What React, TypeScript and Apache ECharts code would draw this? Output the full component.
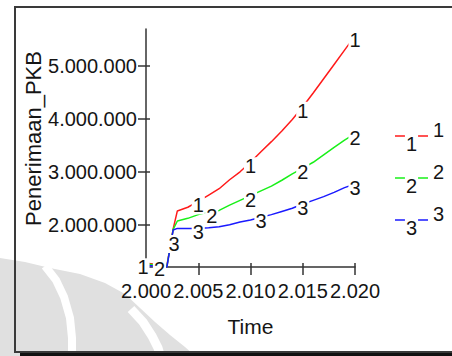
import React, { useEffect, useRef } from "react";
import * as echarts from "echarts";

// ---- data ----
const seriesNames = ["1", "2", "3"];
const seriesColors = ["#ff1a1a", "#19f019", "#1a1aff"];
const times = [2000, 2001, 2002, 2002.6, 2003, 2004, 2005, 2006, 2007, 2008, 2009, 2010, 2011, 2012, 2013, 2014, 2015, 2016, 2017, 2018, 2019, 2020];
const run1 = [1270000, 1250000, 1220000, 1920000, 2260000, 2330000, 2440000, 2560000, 2680000, 2850000, 3000000, 3180000, 3380000, 3570000, 3770000, 3990000, 4230000, 4490000, 4760000, 5030000, 5300000, 5570000];
const run2 = [1256000, 1240000, 1210000, 1910000, 2070000, 2120000, 2190000, 2240000, 2270000, 2370000, 2460000, 2550000, 2640000, 2730000, 2840000, 2960000, 3070000, 3180000, 3320000, 3460000, 3600000, 3720000];
const run3 = [1230000, 1220000, 1200000, 1900000, 1930000, 1930000, 1930000, 1940000, 1960000, 2000000, 2050000, 2090000, 2140000, 2190000, 2250000, 2310000, 2390000, 2460000, 2530000, 2610000, 2700000, 2770000];
// indices of points carrying the run-number marker
const markers1 = [0, 6, 11, 16, 21];
const markers2 = [1, 7, 11, 16, 21];
const markers3 = [3, 6, 12, 16, 21];
const yTicks = [2000000, 3000000, 4000000, 5000000];
const yMin = 1200000;
const yMax = 5700000;
const xMin = 2000;
const xMax = 2020;
const xStep = 5;
const yName = "Penerimaan_PKB";
const xName = "Time";

const FONT = "'Liberation Sans', Arial, sans-serif";
const TXT = "#151515";
const AX = "#333";

const dots = (v: number) => String(Math.round(v)).replace(/\B(?=(\d{3})+(?!\d))/g, ".");

// label style offsets (presentation only)
const specialOffsets: Record<string, number[]> = {
  "0-0": [-3, 4],
  "1-1": [3, 4],
  "1-7": [3, 4],
  "2-3": [1, 14],
};

export default function App() {
  const ref = useRef<HTMLDivElement>(null);
  useEffect(() => {
    if (!ref.current) return;
    const chart = echarts.init(ref.current, undefined, { renderer: "svg" });
    const runs = [run1, run2, run3];
    const markers = [markers1, markers2, markers3];
    const labelStyle = {
      fontSize: 20,
      fontFamily: FONT,
      color: TXT,
      backgroundColor: "#fff",
      padding: [0, 1, 0, 1],
      lineHeight: 18,
    };
    const series = runs.map((vals, si) => ({
      type: "line",
      name: seriesNames[si],
      color: seriesColors[si],
      xAxisIndex: 0,
      yAxisIndex: 0,
      showSymbol: true,
      symbol: "circle",
      symbolSize: 0,
      lineStyle: { width: 1.5, color: seriesColors[si] },
      itemStyle: { color: seriesColors[si] },
      z: 3,
      data: vals.map((v, i) => {
        const item: any = { value: [times[i], v] };
        if (markers[si].includes(i)) {
          item.label = {
            show: true,
            formatter: seriesNames[si],
            position: "inside",
            offset: specialOffsets[`${si}-${i}`] || [0, 4],
            ...labelStyle,
          };
        }
        return item;
      }),
    }));

    const axisCommon = {
      axisLine: { show: true, lineStyle: { color: AX, width: 1.5 } },
      splitLine: { show: false },
    };

    const legendItems: any[] = [];
    seriesNames.forEach((n, i) => {
      const cy = 136 + 42 * i;
      legendItems.push(
        {
          type: "line",
          z: 100,
          silent: true,
          shape: { x1: 395, y1: cy, x2: 428, y2: cy },
          style: { stroke: seriesColors[i], lineWidth: 1.5 },
        },
        {
          type: "text",
          z: 101,
          silent: true,
          x: 411.5,
          y: cy + 7.5,
          style: {
            text: n,
            align: "center",
            verticalAlign: "middle",
            fontSize: 20,
            fontFamily: FONT,
            fill: TXT,
            backgroundColor: "#fff",
            padding: [0, 1, 0, 1],
            lineHeight: 18,
          },
        },
        {
          type: "text",
          z: 101,
          silent: true,
          x: 433,
          y: cy - 6,
          style: {
            text: n,
            align: "left",
            verticalAlign: "middle",
            fontSize: 20,
            fontFamily: FONT,
            fill: TXT,
          },
        }
      );
    });

    const graphic: any[] = [
      // watermark
      {
        type: "polygon",
        z: -2,
        silent: true,
        shape: {
          points: [
            [0, 258], [25, 262], [50, 268], [80, 274], [105, 283], [125, 294], [140, 308],
            [155, 322], [170, 335], [185, 347], [195, 356], [0, 356],
          ],
        },
        style: { fill: "#e0e0e0" },
      },
      {
        type: "polyline",
        z: -1,
        silent: true,
        shape: { points: [[45, 266], [56, 280], [64, 297], [70, 318], [72, 338], [72, 358]] },
        style: { stroke: "#fff", lineWidth: 8, fill: "none" },
      },
      {
        type: "polyline",
        z: -1,
        silent: true,
        shape: { points: [[131, 309], [143, 322], [152, 336], [158, 348], [161, 358]] },
        style: { stroke: "#fff", lineWidth: 9, fill: "none" },
      },
      // frame
      {
        type: "rect",
        z: 50,
        silent: true,
        shape: { x: 15, y: 7, width: 460, height: 345 },
        style: { stroke: "#3a3a3a", lineWidth: 2, fill: "none" },
      },
      {
        type: "rect",
        z: 50,
        silent: true,
        shape: { x: 20, y: 353, width: 440, height: 4 },
        style: { fill: "#111" },
      },
      ...legendItems,
    ];

    chart.setOption({
      animation: false,
      backgroundColor: "#fff",
      textStyle: { fontFamily: FONT },
      grid: { left: 146, right: 97, top: 29, bottom: 89, containLabel: false },
      xAxis: [
        {
          type: "value",
          min: xMin,
          max: xMax,
          interval: xStep,
          name: xName,
          nameLocation: "middle",
          nameGap: 49,
          nameTextStyle: { fontSize: 21, color: TXT, fontFamily: FONT },
          ...axisCommon,
          axisTick: { show: true, length: 8, lineStyle: { color: AX, width: 1.5 } },
          axisLabel: { fontSize: 20, color: TXT, margin: 14, fontFamily: FONT, formatter: (v: number) => dots(v) },
        },
        {
          type: "value",
          min: xMin,
          max: xMax,
          interval: xStep,
          position: "bottom",
          axisLine: { show: false },
          splitLine: { show: false },
          axisTick: { show: true, inside: true, length: 4, lineStyle: { color: AX, width: 1.5 } },
          axisLabel: { show: false },
        },
      ],
      yAxis: [
        {
          type: "value",
          min: yMin,
          max: yMax,
          name: yName,
          nameLocation: "middle",
          nameGap: 100,
          nameTextStyle: { fontSize: 22, color: TXT, fontFamily: FONT, padding: [0, 0, 0, 19] },
          ...axisCommon,
          axisTick: { show: true, length: 8, customValues: yTicks, lineStyle: { color: AX, width: 1.5 } },
          axisLabel: { fontSize: 20, color: TXT, margin: 9, fontFamily: FONT, customValues: yTicks, formatter: (v: number) => dots(v) },
        },
        {
          type: "value",
          min: yMin,
          max: yMax,
          position: "left",
          axisLine: { show: false },
          splitLine: { show: false },
          axisTick: { show: true, inside: true, length: 4, customValues: yTicks, lineStyle: { color: AX, width: 1.5 } },
          axisLabel: { show: false, customValues: yTicks },
        },
      ],
      graphic,
      series,
    });
    return () => chart.dispose();
  }, []);
  return (
    <div
      ref={ref}
      style={{ position: "fixed", left: 0, top: 0, width: 452, height: 356, background: "#fff" }}
    />
  );
}
